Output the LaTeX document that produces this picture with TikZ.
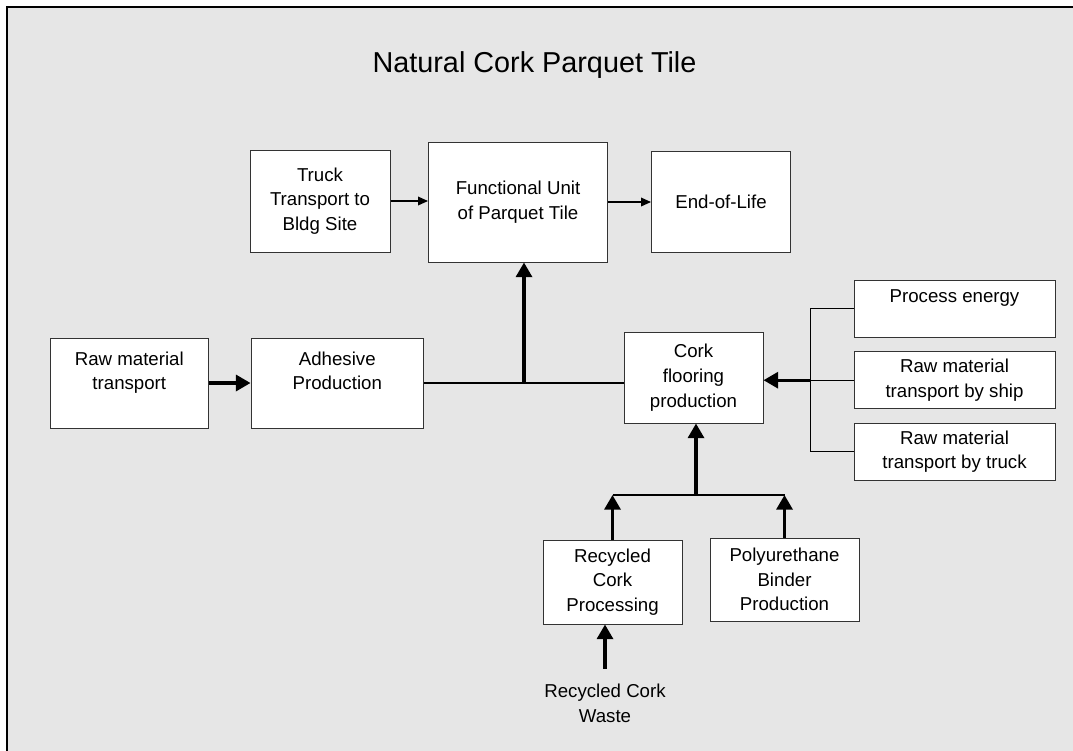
\documentclass[tikz,border=0pt]{standalone}
\usepackage{fontspec}
\setmainfont{Liberation Sans}
\usetikzlibrary{arrows.meta}
\definecolor{panelgray}{RGB}{230,230,230}

\begin{document}
\begin{tikzpicture}[x=0.75pt,y=-0.75pt,
    box/.style={rectangle,draw=black!80,fill=white,line width=0.75pt,align=center,
      inner sep=0pt,font=\fontsize{14}{18.5}\selectfont},
    link/.style={line width=1pt},
    flow/.style={line width=1pt,-{Triangle[length=7.5pt,width=6.5pt]}},
    bigflow/.style={line width=2.5pt,-{Triangle[length=11pt,width=12pt]}}]
    \useasboundingbox (0,0) rectangle (1073,750);

    % Panel
    \draw[line width=1.5pt,fill=panelgray] (7,7) rectangle (1078,756);
    \node[font=\fontsize{21.6}{26}\selectfont,anchor=base] (title) at (534.5,72.7) {Natural Cork Parquet Tile};

    % Top row
    \node[box,minimum width=105pt,minimum height=76.5pt] (truck) at (320,201) {Truck\\Transport to\\Bldg Site};
    \node[box,minimum width=134.25pt,minimum height=90pt] (func) at (518,202) {Functional Unit\\of Parquet Tile};
    \node[box,minimum width=104.25pt,minimum height=75.75pt] (eol) at (721,201.5) {End-of-Life};

    % Middle row
    \node[box,minimum width=118.1pt,minimum height=67.5pt] (rawtr) at (129.3,383) {Raw material\\transport\\ \mbox{}};
    \node[box,minimum width=129.4pt,minimum height=67.5pt] (adhes) at (337.3,383) {Adhesive\\Production\\ \mbox{}};
    \node[box,minimum width=104.25pt,minimum height=68.25pt] (cork) at (693.5,377.5) {Cork\\flooring\\production};

    % Inputs on the right
    \node[box,minimum width=150.75pt,minimum height=42.75pt] (energy) at (954.5,308.5) {Process energy\\ \mbox{}};
    \node[box,minimum width=150.75pt,minimum height=43.1pt] (ship) at (954.5,380.2) {Raw material\\transport by ship};
    \node[box,minimum width=150.75pt,minimum height=42.75pt] (trkraw) at (954.5,451.5) {Raw material\\transport by truck};

    % Inputs below
    \node[box,minimum width=104.25pt,minimum height=63pt] (recyc) at (612.5,582) {Recycled\\Cork\\Processing};
    \node[box,minimum width=111.75pt,minimum height=62.25pt] (poly) at (784.5,579.5) {Polyurethane\\Binder\\Production};
    \node[align=center,inner sep=11pt,font=\fontsize{14}{18.5}\selectfont] (waste) at (605,703) {Recycled Cork\\Waste};

    % Top row arrows
    \draw[flow] (truck.east) -- (truck.east -| func.west);
    \draw[flow] (func.east) -- (func.east -| eol.west);

    % Middle row
    \draw[bigflow] (rawtr) -- (adhes);
    \draw[link] (adhes.east) -- (adhes.east -| cork.west);
    \coordinate (jfunc) at (524,383);
    \draw[bigflow] (jfunc) -- (jfunc |- func.south);

    % Right bracket
    \coordinate (jright) at (810.7,380.2);
    \draw[link] (energy.west) -| (jright |- trkraw.west) -- (trkraw.west);
    \draw[link] (ship.west) -- (jright);
    \draw[bigflow] (jright) -- (jright -| cork.east);

    % Bottom bracket
    \coordinate (jbot) at (696,495);
    \draw[link] (recyc.north |- jbot) -- (poly.north |- jbot);
    \draw[bigflow] (jbot) -- (jbot |- cork.south);
    \draw[bigflow] (recyc.north) -- (recyc.north |- jbot);
    \draw[bigflow] (poly.north) -- (poly.north |- jbot);
    \draw[bigflow] (waste.north) -- (waste.north |- recyc.south);
\end{tikzpicture}
\end{document}
